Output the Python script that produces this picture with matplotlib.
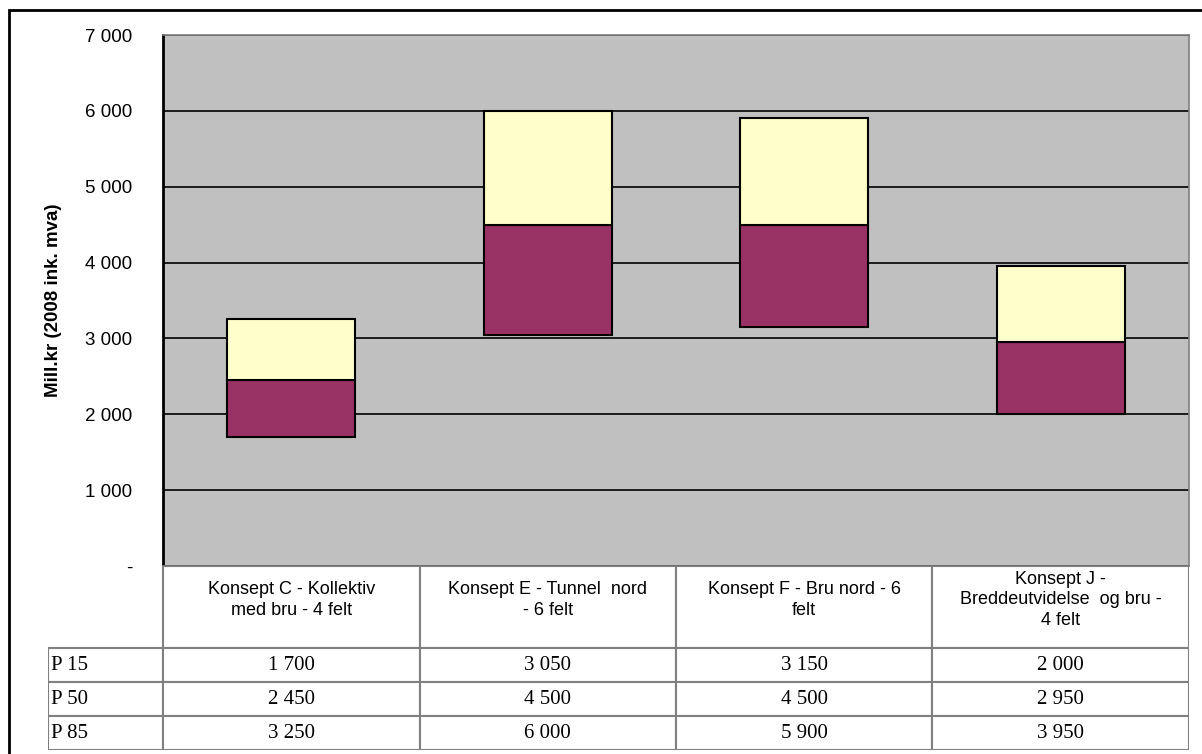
import matplotlib.pyplot as plt
from matplotlib.patches import Rectangle

categories = ['Konsept C - Kollektiv\nmed bru - 4 felt',
              'Konsept E - Tunnel  nord\n- 6 felt',
              'Konsept F - Bru nord - 6\nfelt',
              'Konsept J -\nBreddeutvidelse  og bru -\n4 felt']
row_labels = ['P 15', 'P 50', 'P 85']
p15 = [1700, 3050, 3150, 2000]
p50 = [2450, 4500, 4500, 2950]
p85 = [3250, 6000, 5900, 3950]
yticks = [0, 1000, 2000, 3000, 4000, 5000, 6000, 7000]


def fmt(v):
    if v == 0:
        return '-'
    return f'{v:,}'.replace(',', ' ')


W, H = 1202, 754
fig = plt.figure(figsize=(W / 100, H / 100), dpi=100)
plt.rcParams['font.family'] = ['Liberation Sans', 'DejaVu Sans']

# outer frame
fig.patches.append(Rectangle((9 / W, -0.01), 1.02, (H - 10) / H + 0.01,
                             transform=fig.transFigure, fill=False,
                             edgecolor='black', linewidth=2))

x0, x1, ytop, ybot = 163, 1189, 35, 566
ax = fig.add_axes([x0 / W, (H - ybot) / H, (x1 - x0) / W, (ybot - ytop) / H])
ax.set_facecolor('#c0c0c0')
pos = range(len(categories))
low_part = [b - a for a, b in zip(p15, p50)]
high_part = [b - a for a, b in zip(p50, p85)]
ax.bar(pos, low_part, bottom=p15, width=0.5, color='#993366',
       edgecolor='black', linewidth=1.5, zorder=3)
ax.bar(pos, high_part, bottom=p50, width=0.5, color='#ffffcc',
       edgecolor='black', linewidth=1.5, zorder=3)
ax.set_xlim(-0.5, 3.5)
ax.set_ylim(0, 7000)
ax.set_yticks(yticks)
ax.set_yticklabels([fmt(v) for v in yticks], fontsize=13.5)
ax.tick_params(axis='y', length=0, pad=22)
ax.set_xticks([])
ax.yaxis.grid(True, color='black', linewidth=1.2)
ax.set_axisbelow(True)
for s in ['top', 'right', 'bottom']:
    ax.spines[s].set_color('#808080')
    ax.spines[s].set_linewidth(1.2)
ax.spines['left'].set_linewidth(2)
ax.set_ylabel('Mill.kr (2008 ink. mva)', fontsize=13.5, fontweight='bold')
ax.yaxis.set_label_coords((54 - x0) / (x1 - x0), 0.5)
ax.yaxis.label.set_va('center')

# table below the plot
lab_w = 115 / ((x1 - x0) / 4)
tab_left, tab_bot = 48, 750
tab = fig.add_axes([tab_left / W, (H - tab_bot) / H, (x1 - tab_left) / W,
                    (tab_bot - ybot) / H])
tab.set_xlim(-0.5 - lab_w, 3.5)
tab.set_ylim(tab_bot - ybot, 0)
tab.axis('off')
head_h, row_h = 82, 34
gc = '#808080'
for i, cat in enumerate(categories):
    tab.add_patch(Rectangle((i - 0.5, 0), 1, head_h, facecolor='white',
                            edgecolor=gc, linewidth=1.5))
    tab.text(i, head_h / 2 - 7, cat, ha='center', va='center', fontsize=13,
             linespacing=1.3)
for r, (lab, vals) in enumerate(zip(row_labels, [p15, p50, p85])):
    yr = head_h + r * row_h
    tab.add_patch(Rectangle((-0.5 - lab_w, yr), lab_w, row_h,
                            facecolor='white', edgecolor=gc, linewidth=1.5))
    tab.text(-0.5 - lab_w + 0.01, yr + row_h / 2, lab, ha='left',
             va='center', fontsize=15, family='Liberation Serif')
    for i, v in enumerate(vals):
        tab.add_patch(Rectangle((i - 0.5, yr), 1, row_h, facecolor='white',
                                edgecolor=gc, linewidth=1.5))
        tab.text(i, yr + row_h / 2, fmt(v), ha='center', va='center',
                 fontsize=15, family='Liberation Serif')

fig.savefig('out.png', dpi=100)
